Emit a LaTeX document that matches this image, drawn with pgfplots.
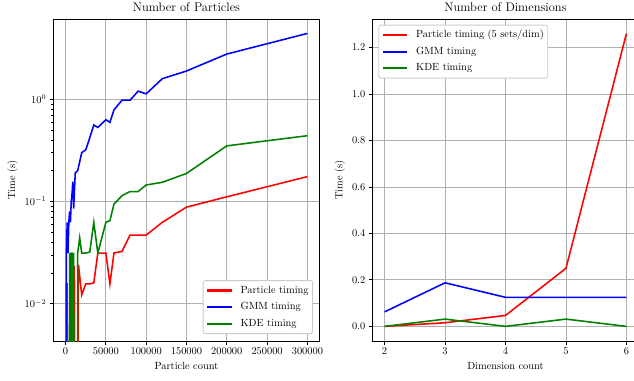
\documentclass[border=0pt]{standalone}
\usepackage{pgfplots}
\pgfplotsset{compat=1.18}
\definecolor{mgrid}{RGB}{176,176,176}
\definecolor{mframe}{RGB}{204,204,204}
\definecolor{mgreen}{RGB}{0,128,0}
\definecolor{mblue}{RGB}{0,0,255}
\definecolor{mred}{RGB}{255,0,0}
\begin{document}
\begin{tikzpicture}
\pgfplotsset{
  every axis/.append style={
    scale only axis,
    width=255.93pt, height=309.81pt,
    axis line style={line width=0.8pt},
    tick align=outside, tick pos=left,
    major tick length=3.4pt, minor tick length=2pt,
    every tick/.style={black, line width=0.8pt},
    minor tick style={black, line width=0.6pt},
    grid=major,
    major grid style={mgrid, line width=0.8pt},
    tick label style={font=\fontsize{10}{12}\selectfont},
    label style={font=\fontsize{10}{12}\selectfont},
    title style={font=\fontsize{12}{14}\selectfont, yshift=-2pt},
    legend style={draw=mframe, line width=0.8pt, rounded corners=2pt, fill=white,
      font=\fontsize{10}{12}\selectfont, inner xsep=3.85pt, inner ysep=5pt,
      nodes={inner sep=0pt, text height=7pt, text depth=2pt},
      column sep=8.7pt, row sep=7pt},
    legend cell align=left,
    legend image code/.code={\fill[#1, draw=none, sharp corners] (0pt,-1.05pt) rectangle (23.5pt,1.05pt);},
  },
}
\begin{axis}[
  at={(51.47pt,37.52pt)}, anchor=south west,
  ymode=log,
  xmin=-15000, xmax=315000,
  ymin=0.00431, ymax=6.1,
  xtick={0,50000,100000,150000,200000,250000,300000},
  scaled x ticks=false,
  xticklabel style={/pgf/number format/fixed, /pgf/number format/1000 sep={}},
  ytick={0.01,0.1,1},
  title={Number of Particles},
  xlabel={Particle count}, ylabel={Time (s)},
  legend style={at={(1,0)}, anchor=south east, xshift=-6.2pt, yshift=6.7pt},
]
\addplot[color=mred, line width=1.5pt] coordinates {
(0,1e-8)(1000,0.0156)(2000,0.0156)(3000,1e-8)(4000,1e-8)(5000,1e-8)(6000,1e-8)(7000,1e-8)(8000,1e-8)(9000,1e-8)(10000,1e-8)
(11000,0.0234)(12000,1e-8)(15000,1e-8)(16000,0.0240)(20000,0.0122)(25000,0.0156)(30000,0.0156)(35000,0.0160)
(40000,0.03125)(50000,0.03125)(55000,0.0156)(60000,0.03125)(70000,0.0325)(80000,0.0469)(90000,0.0469)(100000,0.0469)
(120000,0.0625)(150000,0.088)(200000,0.111)(300000,0.175)};
\addlegendentry{Particle timing\hspace{6pt}}
\addplot[color=mblue, line width=1.5pt] coordinates {
(0,1e-8)(1000,0.03125)(2000,0.0625)(3000,0.03125)(4000,0.0625)(5000,0.08)(6000,0.0625)(7000,0.1)(8000,0.12)(9000,0.156)
(10000,0.085)(12000,0.19)(15000,0.2)(20000,0.30)(25000,0.32)(30000,0.42)(35000,0.56)(40000,0.53)(50000,0.63)(55000,0.595)
(60000,0.786)(70000,0.98)(80000,0.98)(90000,1.20)(100000,1.13)(120000,1.59)(150000,1.89)(200000,2.77)(300000,4.41)};
\addlegendentry{GMM timing}
\addplot[color=mgreen, line width=1.5pt] coordinates {
(0,1e-8)(4000,1e-8)(5000,0.03125)(6000,1e-8)(7000,0.03125)(8000,0.03125)(9000,1e-8)(10000,0.03125)(11000,1e-8)
(14000,1e-8)(15000,0.03125)(17500,0.044)(20000,0.03125)(25000,0.03125)(30000,0.032)(35000,0.0625)(40000,0.03125)
(50000,0.0625)(55000,0.065)(60000,0.094)(70000,0.114)(80000,0.125)(90000,0.125)(100000,0.145)(120000,0.154)
(150000,0.188)(200000,0.35)(300000,0.44)};
\addlegendentry{KDE timing}
\end{axis}
\begin{axis}[
  at={(358.40pt,37.52pt)}, anchor=south west,
  xmin=1.8, xmax=6.2,
  ymin=-0.063, ymax=1.323,
  xtick={2,3,4,5,6},
  ytick={0,0.2,0.4,0.6,0.8,1.0,1.2},
  yticklabel style={/pgf/number format/fixed, /pgf/number format/fixed zerofill, /pgf/number format/precision=1},
  title={Number of Dimensions},
  xlabel={Dimension count}, ylabel={Time (s)},
  legend style={at={(0,1)}, anchor=north west, xshift=5.6pt, yshift=-5.5pt},
]
\addplot[color=mred, line width=1.5pt] coordinates {(2,0)(3,0.0156)(4,0.047)(5,0.25)(6,1.26)};
\addlegendentry{Particle timing (5 sets/dim)\hspace{10pt}}
\addplot[color=mblue, line width=1.5pt] coordinates {(2,0.0625)(3,0.1875)(4,0.125)(5,0.125)(6,0.125)};
\addlegendentry{GMM timing}
\addplot[color=mgreen, line width=1.5pt] coordinates {(2,0)(3,0.03125)(4,0)(5,0.03125)(6,0)};
\addlegendentry{KDE timing}
\end{axis}
\pgfresetboundingbox
\path[use as bounding box] (0,0) rectangle (610pt,365.62pt);
\end{tikzpicture}
\end{document}
